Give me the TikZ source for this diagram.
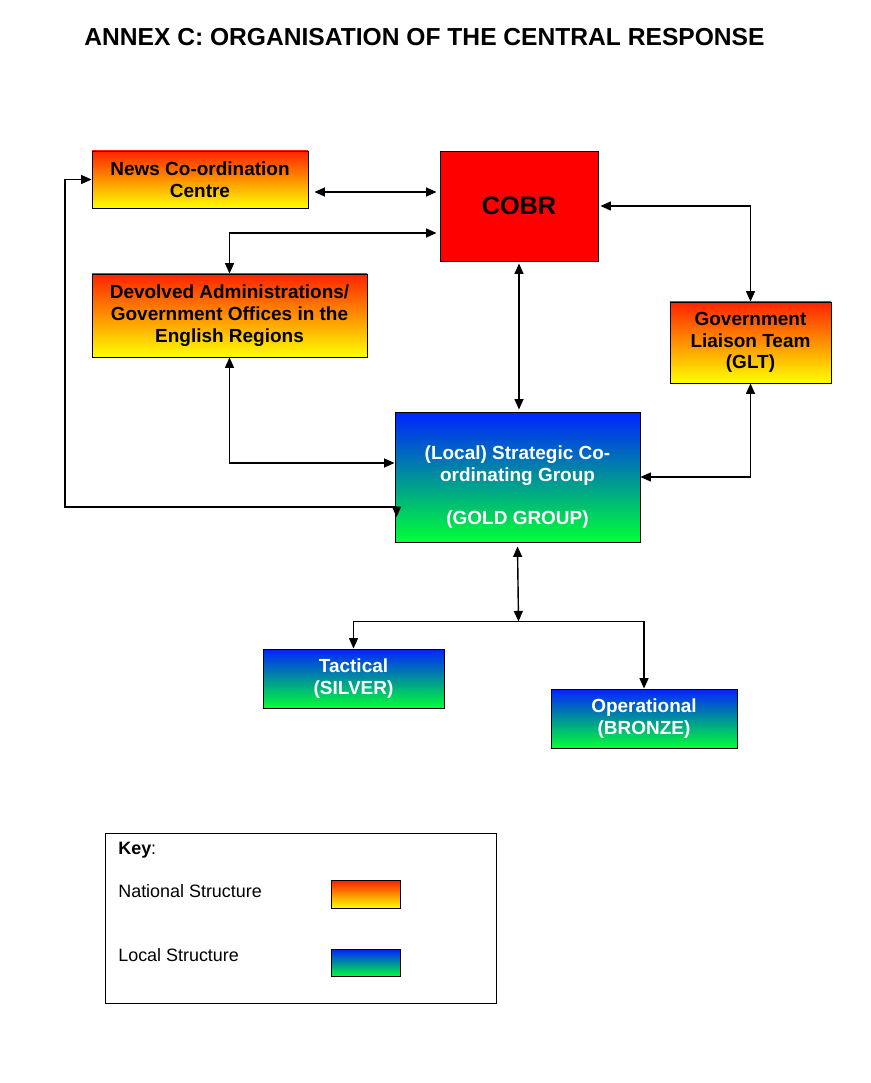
\documentclass[tikz,border=0pt]{standalone}
\usepackage{fontspec}
\setmainfont{Liberation Sans}
\usetikzlibrary{positioning, arrows.meta, calc}

\definecolor{natTop}{RGB}{255,35,0}
\definecolor{natMid}{RGB}{255,185,0}
\definecolor{natBot}{RGB}{255,255,0}
\definecolor{locTop}{RGB}{0,35,255}
\definecolor{locMid}{RGB}{0,175,195}
\definecolor{locBot}{RGB}{0,255,55}

\newcommand{\boxfont}{\fontsize{10.8}{12.4}\selectfont\bfseries}
\newcommand{\keyfont}{\fontsize{10.2}{12}\selectfont}

\begin{document}
\begin{tikzpicture}[
                national/.style={draw=black, line width=0.5pt, rectangle, top color=natTop, middle color=natMid, bottom color=natBot, align=center, font=\boxfont, inner sep=0pt},
                local/.style={draw=black, line width=0.5pt, rectangle, top color=locTop, middle color=locMid, bottom color=locBot, align=center, font=\boxfont, text=white, inner sep=0pt},
                swatch/.style={draw=black, line width=0.5pt, rectangle, minimum width=1.38cm, minimum height=0.55cm},
                link/.style={line width=0.8pt, {Triangle[length=2.1mm, width=1.8mm]}-{Triangle[length=2.1mm, width=1.8mm]}},
                onelink/.style={line width=0.8pt, -{Triangle[length=2.1mm, width=1.8mm]}},
                keytext/.style={font=\keyfont, anchor=west, inner sep=0pt}
            ]
            \useasboundingbox (0,0) rectangle (17.4,-21.66);

            % title
            \node[anchor=west, inner sep=0pt, font=\fontsize{14}{16}\selectfont\bfseries] (title) at (1.68,-0.74) {ANNEX C: ORGANISATION OF THE CENTRAL RESPONSE};

            % boxes
            \node[draw=black, line width=0.5pt, fill=red, minimum width=3.16cm, minimum height=2.2cm, font=\fontsize{14.4}{16}\selectfont\bfseries] (cobr) at (10.38,-4.12) {COBR};
            \node[national, minimum width=4.32cm, minimum height=1.14cm] (news) at (4.0,-3.59) {News Co-ordination\\Centre};
            \node[national, minimum width=5.5cm, minimum height=1.66cm] (dev) at (4.59,-6.31) {Devolved Administrations/\\Government Offices in the\\English Regions};
            \node[national, minimum width=3.22cm, minimum height=1.62cm] (glt) at (15.01,-6.85) {Government\\Liaison Team\\(GLT)};
            \node[local, minimum width=4.9cm, minimum height=2.6cm] (gold) at (10.35,-9.54) {\rule{0pt}{0.68cm}(Local) Strategic Co-\\ordinating Group\\~\\(GOLD GROUP)};
            \node[local, minimum width=3.62cm, minimum height=1.18cm] (tac) at (7.07,-13.57) {Tactical\\(SILVER)};
            \node[local, minimum width=3.72cm, minimum height=1.18cm] (ops) at (12.88,-14.37) {Operational\\(BRONZE)};

            % connections
            \draw[link] ([xshift=0.12cm, yshift=-0.25cm]news.east) -- ([xshift=-0.06cm, yshift=-0.25cm]news.east -| cobr.west);
            \draw[link] ([xshift=-0.06cm, yshift=-0.54cm]cobr.west) -| (dev.north);
            \draw[link] ([xshift=0.04cm]cobr.east) -| (glt.north);
            \draw[link] ([yshift=-0.04cm]cobr.south) -- ([yshift=0.04cm]cobr.south |- gold.north);
            \draw[link] (dev.south) |- ([yshift=0.28cm]gold.west);
            \draw[link] (glt.south) |- (gold.east);
            \draw[link] ([xshift=0.04cm, yshift=-0.8cm]gold.west) -- ([xshift=0.04cm, yshift=-0.6cm]gold.west) -- ([yshift=-0.6cm]gold.west -| 1.3,0) |- (news.west);
            \coordinate (split) at ($(gold.south)+(0.02,-1.58)$);
            \draw[link] ([yshift=-0.08cm]gold.south) -- (split);
            \draw[onelink] (split) -| (tac.north);
            \draw[onelink] (split) -| (ops.north);

            % key
            \node[draw=black, line width=0.5pt, minimum width=7.82cm, minimum height=3.4cm] (keybox) at (6.01,-18.36) {};
            \node[keytext] (keylabel) at (2.36,-17.0) {\textbf{Key}:};
            \node[keytext] (natlabel) at (2.36,-17.82) {National Structure};
            \node[keytext] (loclabel) at (2.36,-19.1) {Local Structure};
            \node[swatch, top color=natTop, middle color=natMid, bottom color=natBot] (natkey) at (7.31,-17.89) {};
            \node[swatch, top color=locTop, middle color=locMid, bottom color=locBot] (lockey) at (7.31,-19.26) {};

        \end{tikzpicture}
\end{document}
